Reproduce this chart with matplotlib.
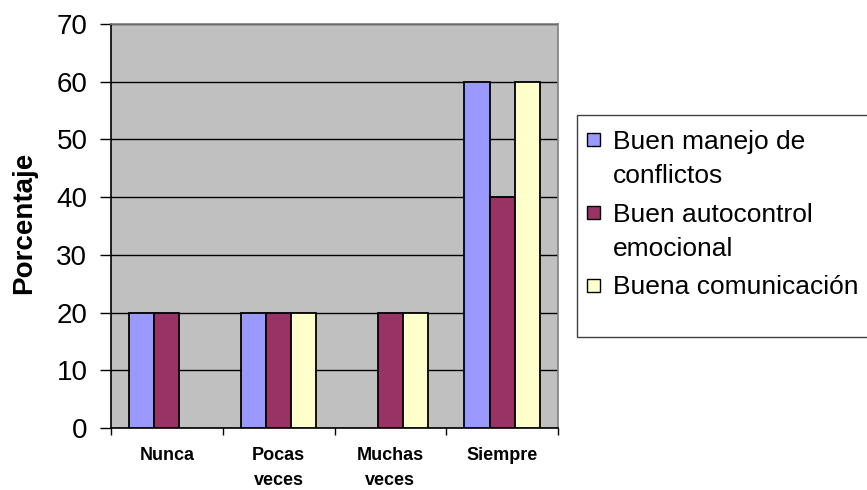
import matplotlib
matplotlib.use("Agg")
import matplotlib.pyplot as plt
from matplotlib.patches import Rectangle
import numpy as np

categories = ["Nunca", "Pocas\nveces", "Muchas\nveces", "Siempre"]
series_names = ["Buen manejo de\nconflictos", "Buen autocontrol\nemocional", "Buena comunicación"]
manejo = [20, 20, 0, 60]
autocontrol = [20, 20, 20, 40]
comunicacion = [0, 20, 20, 60]
colors = ["#9999FF", "#993366", "#FFFFCC"]

plt.rcParams['font.family'] = ['Liberation Sans', 'DejaVu Sans']

W, H = 867, 490
fig = plt.figure(figsize=(W/100, H/100), dpi=100)
ax = fig.add_axes([111/W, 1-428/H, (558-111)/W, (428-24)/H])
ax.set_facecolor("#C0C0C0")

x = np.arange(len(categories))
bw = 0.225
for i, vals in enumerate([manejo, autocontrol, comunicacion]):
    v = np.array(vals, dtype=float)
    mask = v > 0
    ax.bar(x[mask] + (i-1)*bw, v[mask], width=bw, color=colors[i], edgecolor="black",
           linewidth=1.3, zorder=3)

ax.set_xlim(-0.5, 3.5)
ax.set_ylim(0, 70)
ax.set_yticks(np.arange(0, 71, 10))
ax.yaxis.grid(True, color="black", linewidth=1.0, zorder=1)
ax.set_axisbelow(True)
ax.tick_params(axis='y', labelsize=20, length=8, width=1, direction='out', pad=9)

ax.set_xticks(np.arange(-0.5, 3.6, 1.0))
ax.set_xticklabels([])
ax.tick_params(axis='x', which='major', length=5, width=1, direction='out')
ax.set_xticks(x, minor=True)
ax.set_xticklabels(categories, minor=True, fontsize=13, fontweight='bold', linespacing=1.6)
ax.tick_params(axis='x', which='minor', length=0, pad=14)

for s in ['left', 'bottom']:
    ax.spines[s].set_color("black")
    ax.spines[s].set_linewidth(1.2)
for s in ['top', 'right']:
    ax.spines[s].set_color("#808080")
    ax.spines[s].set_linewidth(1.2)

ax.set_ylabel("Porcentaje", fontsize=20, fontweight='bold')
ax.yaxis.set_label_coords(37/W, 1-223/H, transform=fig.transFigure)

# legend
fig.patches.append(Rectangle((577/W, 1-337/H), 320/W, (337-115)/H, transform=fig.transFigure,
                             facecolor="white", edgecolor="#404040", linewidth=1.0, figure=fig))
entry_y = [140, 213, 285]
for name, c, yy in zip(series_names, colors, entry_y):
    fig.patches.append(Rectangle((587/W, 1-(yy+6.5)/H), 13/W, 13/H, transform=fig.transFigure,
                                 facecolor=c, edgecolor="black", linewidth=1.0, figure=fig))
    fig.text(613/W, 1-(yy-10)/H, name, fontsize=19, va='top', ha='left', linespacing=1.52)

fig.savefig("out.png", dpi=100)
